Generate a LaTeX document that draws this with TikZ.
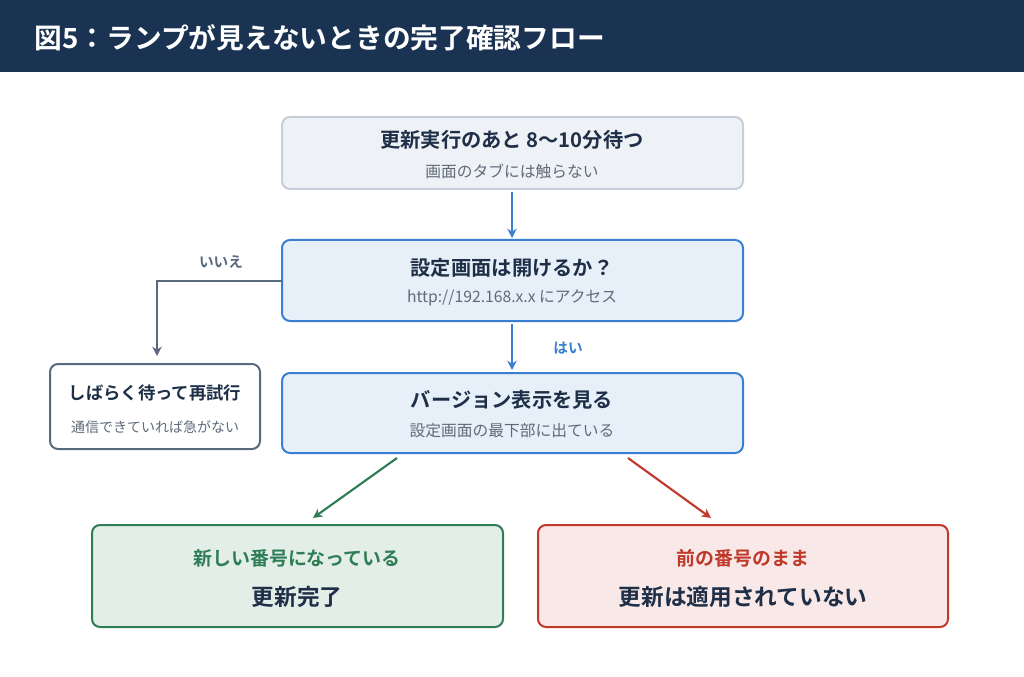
\documentclass[tikz,border=0pt]{standalone}
\usepackage{fontspec}
\setmainfont{Noto Sans CJK JP}
\newfontfamily\jpb{Noto Sans CJK JP Bold}
\usetikzlibrary{arrows.meta}
\definecolor{navy}{HTML}{1A3352}
\definecolor{txt}{HTML}{1E2F47}
\definecolor{sub}{HTML}{5F6B7A}
\definecolor{blu}{HTML}{3A7FD0}
\definecolor{gr}{HTML}{5A6A7D}
\definecolor{grn}{HTML}{2E7D55}
\definecolor{rd}{HTML}{C0392B}
\definecolor{b1fill}{HTML}{EEF1F5}
\definecolor{b1draw}{HTML}{C5CED9}
\tikzset{
 box/.style={draw, line width=1.5pt, rounded corners=6pt},
 ttl/.style={font=\jpb\fontsize{15.2}{18}\selectfont, text=txt},
 st/.style={font=\fontsize{11.8}{14}\selectfont, text=sub},
 arr/.style={line width=1.6pt, -{Stealth[length=7pt,width=7pt]}}
}
\begin{document}
\begin{tikzpicture}[x=0.75pt,y=-0.75pt]
\useasboundingbox (0,0) rectangle (1024,677);
\fill[white] (0,0) rectangle (1024,677);
\fill[navy] (0,0) rectangle (1024,72);
\node[anchor=west, text=white, font=\jpb\fontsize{20.8}{24}\selectfont] (title) at (30,38) {図5：ランプが見えないときの完了確認フロー};
% boxes
\draw[box, draw=b1draw, fill=b1fill] (282,117) rectangle (743,189);
\node[ttl] (t1) at (512,140) {更新実行のあと 8〜10分待つ};
\node[st] (s1) at (512,171) {画面のタブには触らない};
\draw[box, draw=blu, fill=blu!12] (282,240) rectangle (743,321);
\node[ttl] (t2) at (512,268) {設定画面は開けるか？};
\node[st] (s2) at (512,298) {http://192.168.x.x にアクセス};
\draw[box, draw=blu, fill=blu!12] (282,373) rectangle (743,453);
\node[ttl] (t3) at (512,400) {バージョン表示を見る};
\node[st] (s3) at (512,431) {設定画面の最下部に出ている};
\draw[box, draw=gr, fill=white] (50,364) rectangle (260,449);
\node[ttl, font=\jpb\fontsize{13}{15}\selectfont] (t4) at (155,393) {しばらく待って再試行};
\node[st, font=\fontsize{10.5}{12}\selectfont] (s4) at (155,427) {通信できていれば急がない};
\draw[box, draw=grn, fill=grn!13] (92,525) rectangle (503,627);
\node[ttl, text=grn, font=\jpb\fontsize{14.2}{17}\selectfont] (t5) at (297,558) {新しい番号になっている};
\node[ttl, font=\jpb\fontsize{17}{20}\selectfont] (s5) at (297,597) {更新完了};
\draw[box, draw=rd, fill=rd!11] (538,525) rectangle (948,627);
\node[ttl, text=rd, font=\jpb\fontsize{14.2}{17}\selectfont] (t6) at (743,558) {前の番号のまま};
\node[ttl, font=\jpb\fontsize{17}{20}\selectfont] (s6) at (743,597) {更新は適用されていない};
% arrows
\coordinate (a1s) at (512,192); \coordinate (a1e) at (512,238);
\draw[arr, blu] (a1s) -- (a1e);
\coordinate (a2s) at (512,324); \coordinate (a2e) at (512,370);
\draw[arr, blu] (a2s) -- (a2e);
\node[font=\jpb\fontsize{11}{13}\selectfont, text=blu] (yes) at (568,348) {はい};
\coordinate (n1) at (282,281); \coordinate (n2) at (157,281); \coordinate (n3) at (157,356);
\draw[arr, gr] (n1) -- (n2) -- (n3);
\node[font=\jpb\fontsize{11}{13}\selectfont, text=gr] (no) at (221,262) {いいえ};
\coordinate (g1) at (397,458); \coordinate (g2) at (313,518);
\draw[arr, grn] (g1) -- (g2);
\coordinate (r1) at (628,458); \coordinate (r2) at (711,518);
\draw[arr, rd] (r1) -- (r2);
\end{tikzpicture}
\end{document}
